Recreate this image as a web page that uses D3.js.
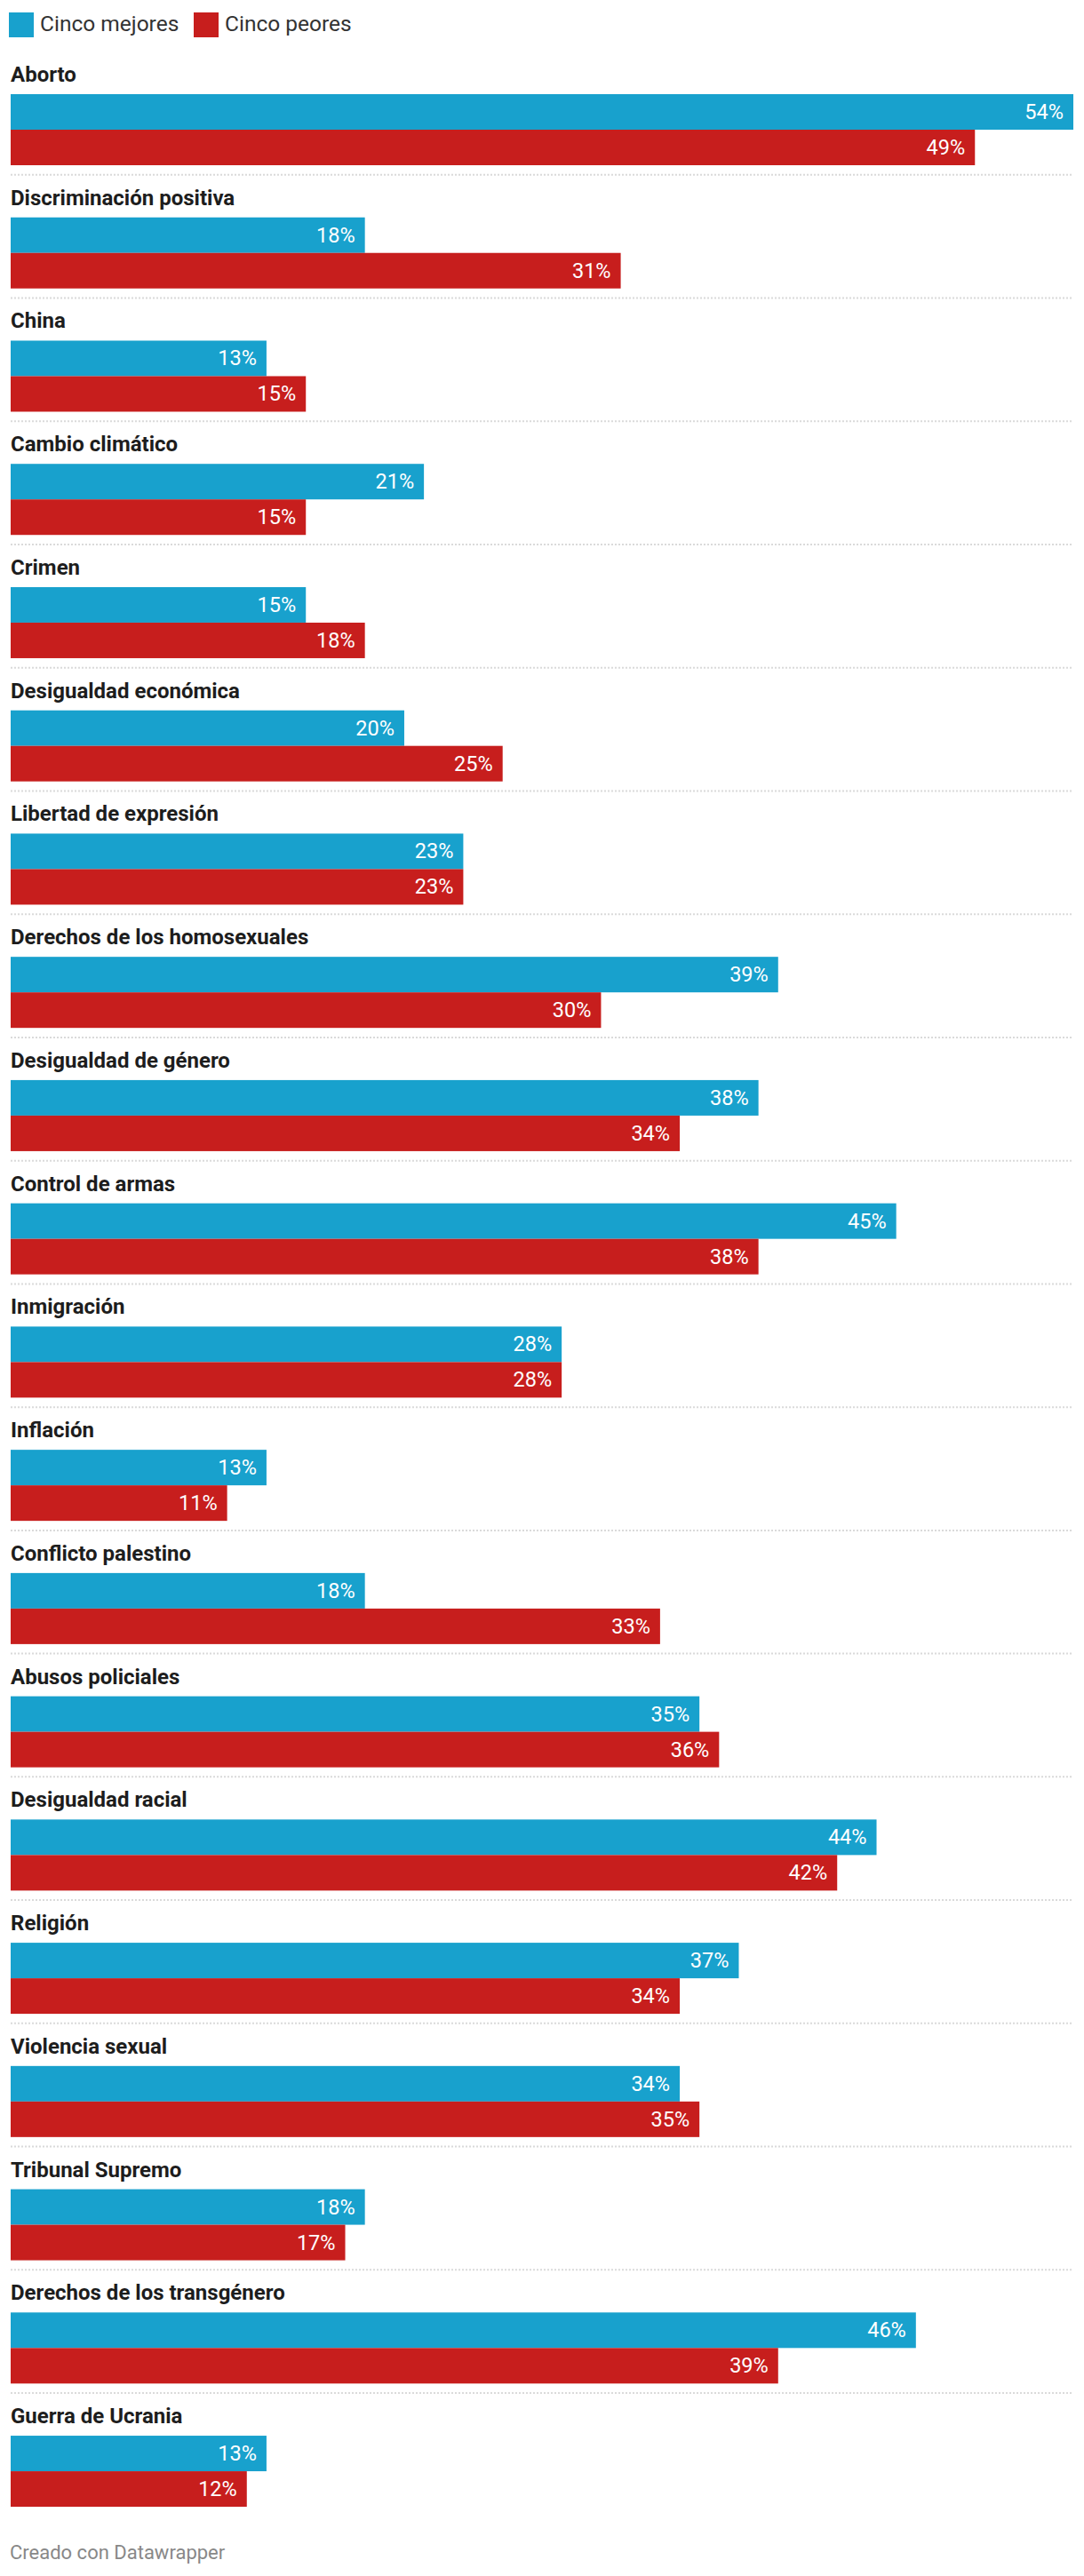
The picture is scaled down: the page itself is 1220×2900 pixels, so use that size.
<!DOCTYPE html>
<html>
<head>
<meta charset="utf-8">
<script src="https://cdn.jsdelivr.net/npm/d3@7"></script>
<style>
  html, body { margin: 0; padding: 0; background: #fff; }
  svg { display: block; font-family: Roboto, "Noto Sans", sans-serif; }
</style>
</head>
<body>
<svg id="chart" width="1220" height="2900"></svg>
<script>
const categories = [
  "Aborto", "Discriminación positiva", "China", "Cambio climático", "Crimen",
  "Desigualdad económica", "Libertad de expresión", "Derechos de los homosexuales",
  "Desigualdad de género", "Control de armas", "Inmigración", "Inflación",
  "Conflicto palestino", "Abusos policiales", "Desigualdad racial", "Religión",
  "Violencia sexual", "Tribunal Supremo", "Derechos de los transgénero", "Guerra de Ucrania"
];
const mejores = [54, 18, 13, 21, 15, 20, 23, 39, 38, 45, 28, 13, 18, 35, 44, 37, 34, 18, 46, 13];
const peores  = [49, 31, 15, 15, 18, 25, 23, 30, 34, 38, 28, 11, 33, 36, 42, 34, 35, 17, 39, 12];
const seriesNames = ["Cinco mejores", "Cinco peores"];
const seriesColors = ["#18a1cd", "#c71e1d"];
const footerText = "Creado con Datawrapper";

const svg = d3.select("#chart");

// Legend
const legend = svg.append("g");
const legendX = [10, 218];
seriesNames.forEach((name, i) => {
  const g = legend.append("g").attr("transform", `translate(${legendX[i]},14)`);
  g.append("rect").attr("width", 28).attr("height", 28).attr("fill", seriesColors[i]);
  g.append("text").attr("x", 35).attr("y", 21).attr("font-size", 24.5)
    .attr("fill", "#333").text(name);
});

// Scales
const x = d3.scaleLinear().domain([0, 54]).range([12, 1208]);
const pitch = 138.74;
const y = d3.scaleBand().domain(categories).range([58, 58 + categories.length * pitch]).paddingInner(0).paddingOuter(0);
const yb = d3.scaleBand().domain(seriesNames).range([48, 128]).padding(0);

const data = categories.map((c, i) => ({ cat: c, vals: [mejores[i], peores[i]] }));

const rows = svg.append("g").selectAll("g.row").data(data).join("g")
  .attr("class", "row")
  .attr("transform", d => `translate(0,${y(d.cat)})`);

rows.append("text")
  .attr("x", 12).attr("y", 34)
  .attr("font-size", 24).attr("font-weight", 700).attr("fill", "#1d1d1d")
  .text(d => d.cat);

rows.each(function(d, ri) {
  const g = d3.select(this);
  const bars = seriesNames.map((s, i) => ({ s, v: d.vals[i], color: seriesColors[i] }));
  g.selectAll("rect.bar").data(bars).join("rect")
    .attr("class", "bar")
    .attr("x", x(0))
    .attr("y", b => yb(b.s))
    .attr("width", b => x(b.v) - x(0))
    .attr("height", yb.bandwidth())
    .attr("fill", b => b.color);
  g.selectAll("text.val").data(bars).join("text")
    .attr("class", "val")
    .attr("x", b => x(b.v) - 11)
    .attr("y", b => yb(b.s) + yb.bandwidth() / 2 + 8)
    .attr("text-anchor", "end")
    .attr("font-size", 23.5)
    .attr("fill", "#fff")
    .text(b => b.v + "%");
  if (ri < categories.length - 1) {
    g.append("line")
      .attr("x1", x(0)).attr("x2", x(54))
      .attr("y1", y.bandwidth()).attr("y2", y.bandwidth())
      .attr("stroke", "#dadada").attr("stroke-width", 2)
      .attr("stroke-dasharray", "2,2");
  }
});

// Footer
svg.append("text").attr("x", 11).attr("y", 2881)
  .attr("font-size", 22).attr("fill", "#888").text(footerText);
</script>
</body>
</html>
